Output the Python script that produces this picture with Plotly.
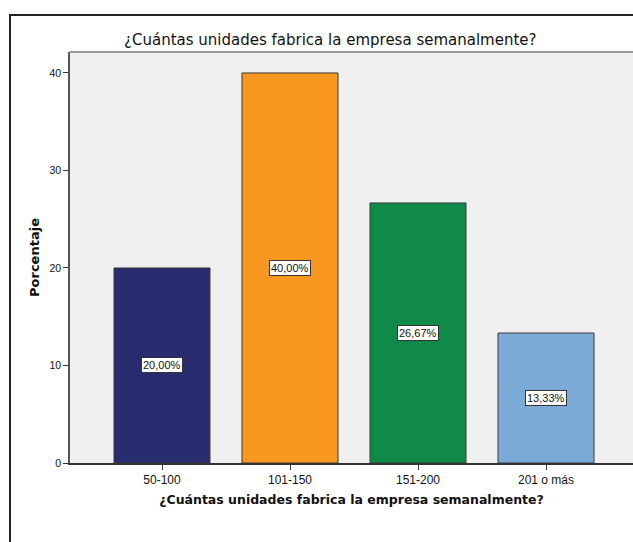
import plotly.graph_objects as go

# Weekly production ranges and share of companies in each (%)
categories = ["50-100", "101-150", "151-200", "201 o más"]
percentages = [20.00, 40.00, 26.67, 13.33]
value_labels = ["20,00%", "40,00%", "26,67%", "13,33%"]
bar_colors = ["#292b6f", "#f8981f", "#0f8a48", "#7caad6"]
y_ticks = [0, 10, 20, 30, 40]

title_text = "¿Cuántas unidades fabrica la empresa semanalmente?"
font_family = "Liberation Sans, Arial, sans-serif"
wide_family = "DejaVu Sans, Verdana, sans-serif"

W, H = 633, 542
ML, MR, MT, MB = 70, 0, 52, 79
plot_w = W - ML - MR
plot_h = H - MT - MB
px_per_cat = 128.0
x_lo = -92 / px_per_cat
x_hi = x_lo + plot_w / px_per_cat

fig = go.Figure()
fig.add_trace(go.Bar(
    x=list(range(len(categories))),
    y=percentages,
    width=0.75,
    marker=dict(color=bar_colors, line=dict(color="#3a3a3a", width=1)),
    hoverinfo="skip",
))

# Boxed value labels at the middle of each bar
for i, (v, lab) in enumerate(zip(percentages, value_labels)):
    fig.add_annotation(
        x=i, y=v / 2, xref="x", yref="y", text=lab, showarrow=False,
        font=dict(family=font_family, size=11, color="#111"),
        bgcolor="white", bordercolor="#333", borderwidth=1, borderpad=1,
    )

def px_x(p):
    return (p - ML) / plot_w

def px_y(p):
    return (H - MB - p) / plot_h

# Chart title
fig.add_annotation(
    x=px_x(330), y=px_y(40), xref="paper", yref="paper", text=title_text,
    showarrow=False, xanchor="center", yanchor="middle",
    font=dict(family=wide_family, size=15, color="#111"),
)

# Outer frame and top edge of the plotting area
fig.add_shape(type="rect", xref="paper", yref="paper",
              x0=px_x(10), y0=px_y(560), x1=px_x(660), y1=px_y(15),
              line=dict(color="#222", width=2), fillcolor="rgba(0,0,0,0)", layer="above")
fig.add_shape(type="line", xref="paper", yref="paper",
              x0=0, y0=1, x1=1.05, y1=1,
              line=dict(color="#999", width=2), layer="above")

fig.update_layout(
    width=W, height=H,
    margin=dict(l=ML, r=MR, t=MT, b=MB),
    paper_bgcolor="white", plot_bgcolor="#f0f0f0",
    showlegend=False,
    font=dict(family=font_family, color="#111"),
    xaxis=dict(
        range=[x_lo, x_hi], tickmode="array",
        tickvals=list(range(len(categories))), ticktext=categories,
        ticks="outside", ticklen=5, tickcolor="#333",
        showline=True, linecolor="#333", linewidth=1.5,
        showgrid=False, zeroline=False,
        tickfont=dict(size=12, color="#111"),
        title=dict(text="<b>" + title_text + "</b>",
                   font=dict(family=wide_family, size=12.5, color="#111"), standoff=9),
    ),
    yaxis=dict(
        range=[0, 42.15], tickmode="array", tickvals=y_ticks,
        ticks="outside", ticklen=5, tickcolor="#333",
        showline=True, linecolor="#555", linewidth=1.5,
        showgrid=False, zeroline=False,
        tickfont=dict(size=10.5, color="#111"),
        title=dict(text="<b>Porcentaje</b>",
                   font=dict(family=wide_family, size=13, color="#111"), standoff=7),
    ),
)

fig.write_html("out.html")
